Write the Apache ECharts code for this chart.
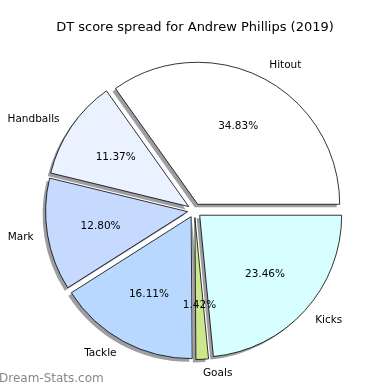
<!DOCTYPE html>
<html>
<head>
<meta charset="utf-8">
<script src="https://cdn.jsdelivr.net/npm/echarts@6/dist/echarts.min.js"></script>
<style>html,body{margin:0;padding:0;background:#fff}#c{width:390px;height:390px}</style>
</head>
<body>
<div id="c"></div>
<script>
const categories = ['Hitout', 'Handballs', 'Mark', 'Tackle', 'Goals', 'Kicks'];
const percents = [34.83, 11.37, 12.80, 16.11, 1.42, 23.46];
const colors = ['#ffffff', '#eaf1ff', '#c6d9ff', '#b8d8ff', '#cde88c', '#d8ffff'];
const titleText = 'DT score spread for Andrew Phillips (2019)';
const watermark = 'Dream-Stats.com';

const R = 142;
const CX = 194.5, CY = 210.5;
const OFF = 7;
const SH = 3;
const FONT = 'DejaVu Sans';

const mainData = categories.map((c, i) => ({
  name: c, value: percents[i], selected: true,
  itemStyle: { color: colors[i] }
}));
const plainData = categories.map((c, i) => ({
  name: c, value: percents[i], selected: true
}));

const common = {
  type: 'pie', startAngle: 0, clockwise: false,
  selectedMode: 'multiple', selectedOffset: OFF,
  avoidLabelOverlap: false, silent: true,
  emphasis: { disabled: true }
};

const chart = echarts.init(document.getElementById('c'), null, { renderer: 'canvas' });
chart.setOption({
  animation: false,
  backgroundColor: '#ffffff',
  title: {
    text: titleText, left: 'center', top: 16,
    textStyle: { fontFamily: FONT, fontSize: 13, fontWeight: 'normal', color: '#000' }
  },
  graphic: [{
    type: 'text', left: -1, top: 373,
    style: { text: watermark, fontFamily: FONT, fontSize: 12, fontWeight: 'normal', fill: '#888888' }
  }],
  series: [
    Object.assign({}, common, {
      center: [CX - SH, CY + SH], radius: [0, R], z: 1,
      itemStyle: { color: 'rgba(60,60,70,0.5)', borderWidth: 0 },
      label: { show: false }, labelLine: { show: false },
      data: plainData
    }),
    Object.assign({}, common, {
      center: [CX, CY], radius: [0, R], z: 2,
      itemStyle: { borderColor: '#000', borderWidth: 0.8 },
      label: {
        show: true, position: 'outside', fontFamily: FONT, fontSize: 10.5, color: '#000',
        distanceToLabelLine: 0, formatter: '{b}'
      },
      labelLine: { show: false, length: 14, length2: 0 },
      data: mainData
    }),
    Object.assign({}, common, {
      center: [CX, CY], radius: [0, R * 1.2], z: 5,
      itemStyle: { color: 'rgba(0,0,0,0)', borderWidth: 0 },
      label: {
        show: true, position: 'inside', fontFamily: FONT, fontSize: 10.5, color: '#000',
        formatter: p => p.value.toFixed(2) + '%'
      },
      labelLine: { show: false },
      data: plainData
    })
  ]
});
</script>
</body>
</html>
